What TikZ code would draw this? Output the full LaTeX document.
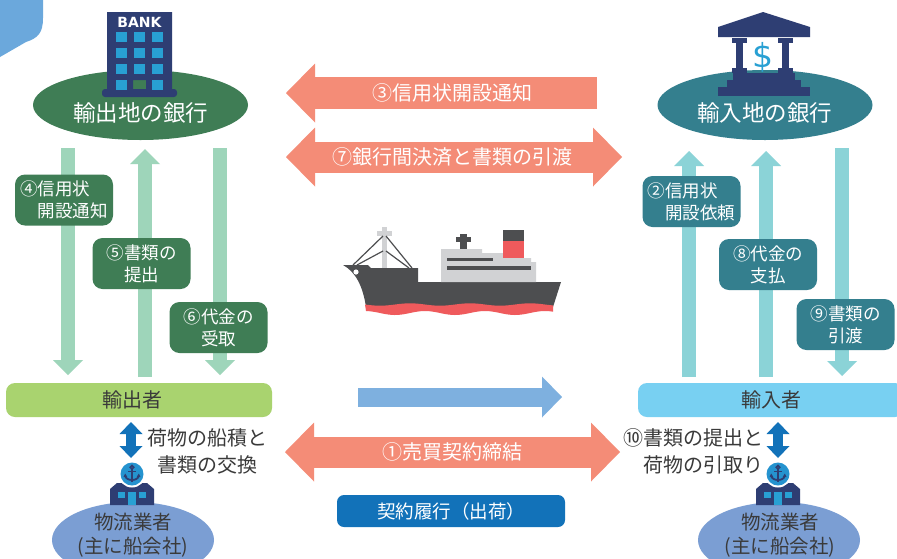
\documentclass[tikz,border=0pt]{standalone}
\usepackage{fontspec}
\setmainfont{Noto Sans CJK JP}
\newfontfamily\latinfont{DejaVu Sans}
\usetikzlibrary{arrows.meta,shapes.geometric}

\definecolor{bgreen}{HTML}{3F7D55}
\definecolor{lgreen}{HTML}{9ED5BA}
\definecolor{expgreen}{HTML}{A9D36F}
\definecolor{bteal}{HTML}{347F8E}
\definecolor{lteal}{HTML}{8BD3D7}
\definecolor{impblue}{HTML}{78D0F2}
\definecolor{salmon}{HTML}{F48C77}
\definecolor{dblue}{HTML}{1272B9}
\definecolor{mblue}{HTML}{7EB0DF}
\definecolor{logiblue}{HTML}{7B9ED3}
\definecolor{blobblue}{HTML}{6BA8DC}
\definecolor{navy}{HTML}{2E3E73}
\definecolor{winblue}{HTML}{28A0D3}
\definecolor{anchorblue}{HTML}{2593CF}
\definecolor{txtdark}{HTML}{3A3A3A}
\definecolor{hullgray}{HTML}{4D4E50}
\definecolor{lightgray}{HTML}{D1D2D4}
\definecolor{shipred}{HTML}{EF5A5C}

\tikzset{
  vtip/.tip={Triangle[width=30pt,length=15pt,line width=0pt]},
  htip/.tip={Triangle[width=59pt,length=29pt,line width=0pt]},
  smalltip/.tip={Triangle[width=23pt,length=12pt,line width=0pt]},
  shiptip/.tip={Triangle[width=41pt,length=20pt,line width=0pt]},
  bankoval/.style={ellipse, minimum width=215pt, minimum height=70pt},
  ovaltext/.style={text=white, font=\fontsize{22.5}{26}\selectfont},
  notebox/.style={rounded corners=10pt, minimum width=98pt, minimum height=51pt,
    text=white, font=\fontsize{17.5}{22}\selectfont},
  partybox/.style={rounded corners=9pt, minimum width=266pt, minimum height=34pt},
  partytext/.style={text=txtdark, font=\fontsize{20}{24}\selectfont},
  flowtext/.style={text=white, font=\fontsize{20}{24}\selectfont},
  darktext/.style={text=txtdark, font=\fontsize{20}{27}\selectfont},
  logioval/.style={ellipse, fill=logiblue, minimum width=162pt, minimum height=76pt},
  logitext/.style={text=txtdark, align=center, font=\fontsize{19.5}{24}\selectfont},
  garrow/.style={draw=lgreen, line width=14pt, -vtip},
  tarrow/.style={draw=lteal, line width=14pt, -vtip},
  salone/.style={draw=salmon, line width=32pt, -htip},
  salboth/.style={draw=salmon, line width=31pt, htip-htip},
  portarrow/.style={draw=dblue, line width=10pt, smalltip-smalltip},
  porticon/.pic={
    % warehouse
    \fill[navy] (-22,31) -- (-22,15) -- (-15,9) -- (15,9) -- (22,15) -- (22,31) -- cycle;
    \fill[winblue] (-14,18) rectangle (-7,24);
    \fill[winblue] (7,18) rectangle (14,24);
    \fill[winblue] (-4,18) rectangle (4,31);
    % badge with anchor
    \fill[white] (0,0) circle (13.5);
    \fill[anchorblue] (0,0) circle (11.5);
    \draw[navy, line width=1.6pt] (0,-6.8) circle (1.7);
    \draw[navy, line width=1.8pt] (0,-5) -- (0,7.5);
    \draw[navy, line width=1.6pt] (-4,-2.5) -- (4,-2.5);
    \draw[navy, line width=1.8pt] (-7,1.5) .. controls (-6,7.5) and (6,7.5) .. (7,1.5);
    \fill[navy] (-8.5,3) -- (-6.8,-0.5) -- (-4.8,2.8) -- cycle;
    \fill[navy] (8.5,3) -- (6.8,-0.5) -- (4.8,2.8) -- cycle;
  }
}

\begin{document}
\begin{tikzpicture}[x=1pt,y=-1pt, every node/.style={inner sep=0pt, outer sep=0pt}]
\useasboundingbox (0,0) rectangle (897,558);
\clip (0,0) rectangle (897,558);
\fill[white] (0,0) rectangle (897,558);

% corner accent
\fill[blobblue] (0,0) -- (43,0) -- (43,18) .. controls (43,33) and (38,38) .. (26,42) -- (0,57) -- cycle;

% ---------- banks ----------
\node[bankoval, fill=bgreen] (bankL) at (140.5,105) {};
\node[bankoval, fill=bteal] (bankR) at (765,105) {};

% exporting bank building
\fill[navy] (107,12) -- (172,12) -- (172,91) -- (146,91) -- (146,80) -- (133,80) -- (133,91) -- (107,91) -- cycle;
\fill[navy, rounded corners=3pt] (102,89) rectangle (177,97);
\foreach \cx in {116,134,152} {
  \foreach \ry in {32,48,64} {
    \fill[winblue] (\cx,\ry) rectangle ++(11,10);
  }
}
\fill[winblue] (116,80) rectangle ++(11,10);
\fill[winblue] (152,80) rectangle ++(11,10);
\node[text=white, font=\latinfont\bfseries\fontsize{14}{14}\selectfont] (banksign) at (139.5,22) {BANK};

% importing bank building
\fill[navy] (718,27) -- (763,12) -- (810,27) -- (810,37) -- (718,37) -- cycle;
\foreach \cx in {739.5,785.5} {
  \fill[navy] (\cx-7.5,38) rectangle (\cx+7.5,43);
  \fill[navy] (\cx-3.5,43) rectangle (\cx+3.5,68);
  \fill[navy] (\cx-7.5,68) rectangle (\cx+7.5,73);
}
\fill[navy] (733,73) rectangle (795,80);
\fill[navy] (727,80) rectangle (801,87);
\fill[navy] (718,87) rectangle (810,96);
\node[text=winblue, font=\latinfont\fontsize{33}{33}\selectfont] (dollar) at (763,57) {\$};

\node[ovaltext] (bankLt) at (140.5,113) {輸出地の銀行};
\node[ovaltext] (bankRt) at (764.5,113) {輸入地の銀行};

% ---------- parties ----------
\node[partybox, fill=expgreen] (exp) at (139,400) {};
\node[partybox, fill=impblue] (imp) at (771,400) {};
\node[partytext] (expt) at (132,400) {輸出者};
\node[partytext] (impt) at (771,400) {輸入者};

% ---------- vertical flows on the exporting side ----------
\coordinate (g1s) at (68,148);  \coordinate (g1e) at (68,375);
\coordinate (g2s) at (145,377); \coordinate (g2e) at (145,149);
\coordinate (g3s) at (220,148); \coordinate (g3e) at (220,375);
\draw[garrow] (g1s) -- (g1e);
\draw[garrow] (g2s) -- (g2e);
\draw[garrow] (g3s) -- (g3e);

\node[notebox, fill=bgreen, align=left] (n4) at (64,200) {④信用状\\\hspace*{1em}開設通知};
\node[notebox, fill=bgreen, align=center] (n5) at (141.5,263.5) {⑤書類の\\提出};
\node[notebox, fill=bgreen, align=center] (n6) at (218.5,327.5) {⑥代金の\\受取};

% ---------- vertical flows on the importing side ----------
\coordinate (t1s) at (689,377); \coordinate (t1e) at (689,151);
\coordinate (t2s) at (766,377); \coordinate (t2e) at (766,151);
\coordinate (t3s) at (842,148); \coordinate (t3e) at (842,376);
\draw[tarrow] (t1s) -- (t1e);
\draw[tarrow] (t2s) -- (t2e);
\draw[tarrow] (t3s) -- (t3e);

\node[notebox, fill=bteal, align=left] (n2) at (691.5,201.5) {②信用状\\\hspace*{1em}開設依頼};
\node[notebox, fill=bteal, align=center] (n8) at (768,264.5) {⑧代金の\\支払};
\node[notebox, fill=bteal, align=center] (n9) at (845.5,324.5) {⑨書類の\\引渡};

% ---------- flows between the banks ----------
\coordinate (a3s) at (597,93);  \coordinate (a3e) at (286,93);
\draw[salone] (a3s) -- (a3e);
\node[flowtext] (a3t) at (452,93) {③信用状開設通知};

\coordinate (a7l) at (286,157); \coordinate (a7r) at (622,157);
\draw[salboth] (a7l) -- (a7r);
\node[flowtext] (a7t) at (452,157) {⑦銀行間決済と書類の引渡};

% ---------- ship ----------
\fill[hullgray] (343,265) -- (368,265) -- (371,268) -- (418,268) -- (418,282) -- (561,282)
  -- (553,307) -- (366,307) .. controls (363,287) and (356,272) .. (343,265) -- cycle;
\fill[shipred] plot[domain=365:553, samples=60] (\x,{304.5+1.2*sin(6*(\x-365))})
  -- plot[domain=553:366, samples=60] (\x,{313+2*sin(6*(\x-380))}) -- cycle;
\fill[lightgray] (441,282) -- (441,249) -- (482,249) -- (482,253) -- (503,253) -- (503,258)
  -- (531,258) -- (531,262) -- (536,262) -- (536,282) -- cycle;
\fill[hullgray] (447,257.5) rectangle (493,261);
\fill[hullgray] (447,266) rectangle (531,270);
\fill[hullgray] (503,230) rectangle (524,241);
\fill[shipred] (503,241) rectangle (524,258);
\fill[hullgray] (460,234) rectangle (467,249);
\fill[hullgray] (456,237) rectangle (471,242);
\fill[lightgray] (382,227) rectangle (387,268);
\fill[lightgray] (377,231) rectangle (392,236);
\draw[hullgray, line width=1.2pt] (383,236) -- (353,265);
\draw[hullgray, line width=1.2pt] (383,251) -- (357,265);
\draw[hullgray, line width=1.2pt] (386,236) -- (412,268);
\draw[hullgray, line width=1.2pt] (386,251) -- (409,268);
\fill[white] (356,272) circle (2.6);

% ---------- trade flows ----------
\coordinate (shs) at (358,397); \coordinate (she) at (562,397);
\draw[draw=mblue, line width=19pt, -shiptip] (shs) -- (she);

\coordinate (a1l) at (285,452); \coordinate (a1r) at (620,452);
\draw[salboth] (a1l) -- (a1r);
\node[flowtext] (a1t) at (452,452) {①売買契約締結};

\node[fill=dblue, rounded corners=7pt, minimum width=228pt, minimum height=32pt,
  text=white, font=\fontsize{18.5}{22}\selectfont] (perform) at (451,511) {契約履行（出荷）};

% ---------- carriers ----------
\node[logioval] (logL) at (133,540) {};
\node[logioval] (logR) at (779,540) {};
\pic at (132,474) {porticon};
\pic at (778,474) {porticon};
\node[logitext] (logLt) at (133,535) {物流業者\\(主に船会社)};
\node[logitext] (logRt) at (780,535) {物流業者\\(主に船会社)};

\coordinate (pls) at (131,422); \coordinate (ple) at (131,458);
\draw[portarrow] (pls) -- (ple);
\coordinate (prs) at (778,422); \coordinate (pre) at (778,458);
\draw[portarrow] (prs) -- (pre);

\node[darktext, align=center] (loadL) at (207,451.5) {荷物の船積と\\書類の交換};
\node[darktext, align=right, anchor=east] (loadR) at (763,451.5) {⑩書類の提出と\\荷物の引取り};
\end{tikzpicture}
\end{document}
